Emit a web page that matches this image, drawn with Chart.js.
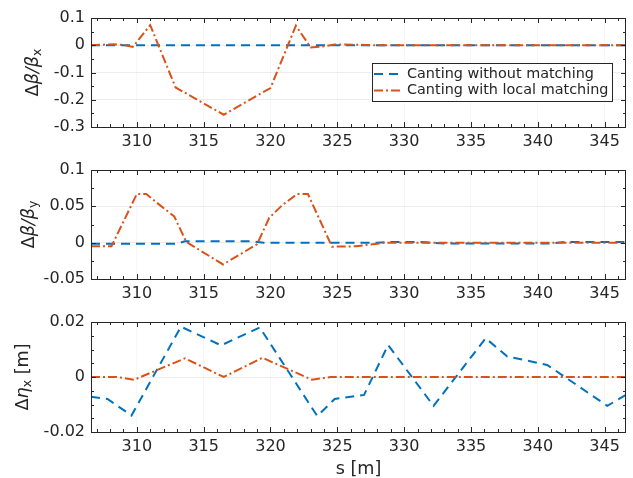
<!DOCTYPE html>
<html lang="en">
<head>
<meta charset="UTF-8">
<title>Canting optics</title>
<script src="https://cdn.jsdelivr.net/npm/chart.js"></script>
<style>
  body { margin: 0; background: #fff; overflow: hidden; }
  canvas { position: absolute; left: 0; }
</style>
</head>
<body>
<canvas id="c1" width="633" height="150" style="top:0"></canvas>
<canvas id="c2" width="633" height="155" style="top:150px"></canvas>
<canvas id="c3" width="633" height="179" style="top:305px"></canvas>

<script>
  // s range of the plots
  const sMin = 306.57, sMax = 346.6;

  // Delta beta / beta x
  const bxNoMatchS = [306.57, 346.6];
  const bxNoMatch  = [0, 0];
  const bxMatchS = [306.57, 307.5, 308.3, 309.0, 309.7, 311.0, 312.9, 316.5, 320.0, 321.9, 323.0, 324.0, 324.8, 326.5, 327.5, 346.6];
  const bxMatch  = [0, 0.002, 0.004, 0.001, -0.006, 0.074, -0.155, -0.255, -0.157, 0.072, -0.008, -0.004, 0.003, 0.002, 0, 0];

  // Delta beta / beta y
  const byNoMatchS = [306.57, 313.0, 313.6, 318.5, 319.5, 328.0, 329.0, 331.0, 332.0, 333.0, 341.0, 342.0, 346.6];
  const byNoMatch  = [-0.0015, -0.0015, 0.002, 0.002, 0, 0, 0.001, 0.001, 0, -0.001, -0.001, 0.001, 0.001];
  const byMatchS = [306.57, 308.1, 310.0, 310.7, 311.7, 312.8, 313.7, 316.45, 319.0, 319.9, 320.9, 322.0, 322.8, 324.6, 326.4, 328.6, 346.6];
  const byMatch  = [-0.005, -0.005, 0.067, 0.067, 0.052, 0.036, 0.001, -0.030, -0.002, 0.034, 0.052, 0.067, 0.067, -0.0055, -0.005, 0, 0];

  // Delta eta x
  const etaNoMatchS = [306.57, 307.8, 309.6, 313.3, 316.3, 319.2, 323.5, 324.8, 327.0, 328.8, 332.2, 336.1, 337.7, 340.7, 345.2, 346.6];
  const etaNoMatch  = [-0.0072, -0.008, -0.014, 0.0183, 0.0115, 0.018, -0.0142, -0.008, -0.0065, 0.0116, -0.0105, 0.0141, 0.0075, 0.0044, -0.0105, -0.0065];
  const etaMatchS = [306.57, 308.5, 309.8, 313.6, 316.5, 319.4, 323.1, 324.5, 346.6];
  const etaMatch  = [0, 0, -0.001, 0.0068, 0, 0.007, -0.001, 0, 0];

  const xTicks = [310, 315, 320, 325, 330, 335, 340, 345];
  const legendLabels = ['Canting without matching', 'Canting with local matching'];

  const BLUE = '#0072BD', ORANGE = '#D95319', AXIS = '#262626';
  const FONT = 'DejaVu Sans';
  const TICK_SIZE = 16, LABEL_SIZE = 17.6, LEGEND_SIZE = 14.4;
  const blueDash = [9, 6], orangeDash = [9, 3, 2, 3];

  const pts = (s, v) => s.map((x, i) => ({ x: x, y: v[i] }));

  // box, inner ticks, y label with subscript, optional legend
  const decor = {
    id: 'decor',
    afterDraw(chart) {
      const o = chart.options.plugins.decor;
      const { ctx, chartArea: a } = chart;
      const xs = chart.scales.x, ys = chart.scales.y;
      ctx.save();
      ctx.strokeStyle = AXIS;
      ctx.lineWidth = 1;
      ctx.strokeRect(a.left + 0.5, a.top + 0.5, a.right - a.left - 1, a.bottom - a.top);
      ctx.beginPath();
      for (let s = Math.ceil(sMin); s <= sMax; s++) {
        const px = Math.round(xs.getPixelForValue(s)) + 0.5;
        const len = s % 5 === 0 ? 5 : 3;
        ctx.moveTo(px, a.bottom); ctx.lineTo(px, a.bottom - len);
        ctx.moveTo(px, a.top); ctx.lineTo(px, a.top + len);
      }
      const n = Math.round((o.yMax - o.yMin) / o.yMinor);
      for (let i = 0; i <= n; i++) {
        const v = o.yMin + i * o.yMinor;
        const py = Math.round(ys.getPixelForValue(v)) + 0.5;
        const len = i % o.minorPer === 0 ? 5 : 3;
        ctx.moveTo(a.left, py); ctx.lineTo(a.left + len, py);
        ctx.moveTo(a.right, py); ctx.lineTo(a.right - len, py);
      }
      ctx.stroke();

      // y label
      ctx.fillStyle = AXIS;
      ctx.textBaseline = 'alphabetic';
      const parts = o.label;
      const measure = p => { ctx.font = (p.it ? 'italic ' : '') + (p.sub ? 12.5 : LABEL_SIZE) + 'px "' + FONT + '"'; return ctx.measureText(p.t).width; };
      const total = parts.reduce((w, p) => w + measure(p), 0);
      ctx.translate(o.labelX, (a.top + a.bottom) / 2);
      ctx.rotate(-Math.PI / 2);
      let x = -total / 2;
      parts.forEach(p => {
        const w = measure(p);
        ctx.fillText(p.t, x, p.sub ? 3 : 0);
        x += w;
      });
      ctx.restore();

      if (o.legend) {
        const L = o.legend;
        ctx.save();
        ctx.fillStyle = '#fff';
        ctx.fillRect(L.x, L.y, L.w, L.h);
        ctx.strokeStyle = AXIS;
        ctx.lineWidth = 1;
        ctx.strokeRect(L.x + 0.5, L.y + 0.5, L.w, L.h);
        ctx.font = LEGEND_SIZE + 'px "' + FONT + '"';
        ctx.textBaseline = 'middle';
        chart.data.datasets.forEach((ds, i) => {
          const cy = L.y + 11 + i * 16.5;
          ctx.strokeStyle = ds.borderColor;
          ctx.lineWidth = 2;
          ctx.setLineDash(ds.borderDash);
          ctx.beginPath();
          ctx.moveTo(L.x + 2, cy); ctx.lineTo(L.x + 31, cy);
          ctx.stroke();
          ctx.setLineDash([]);
          ctx.fillStyle = AXIS;
          ctx.fillText(legendLabels[i], L.x + 35, cy);
        });
        ctx.restore();
      }
    }
  };

  function panel(id, p) {
    const canvas = document.getElementById(id);
    const H = canvas.height;
    return new Chart(canvas, {
      type: 'line',
      data: {
        datasets: [
          { data: pts(p.blueS, p.blue), borderColor: BLUE, borderDash: blueDash, borderWidth: 2, pointRadius: 0, tension: 0, order: 1 },
          { data: pts(p.orangeS, p.orange), borderColor: ORANGE, borderDash: orangeDash, borderWidth: 2, pointRadius: 0, tension: 0, order: 0 }
        ]
      },
      options: {
        responsive: false,
        animation: false,
        layout: { padding: { top: p.top, right: 7, left: 0, bottom: 0 } },
        plugins: {
          legend: { display: false },
          tooltip: { enabled: false },
          decor: { yMin: p.yMin, yMax: p.yMax, yMinor: p.yMinor, minorPer: p.minorPer, label: p.label, labelX: p.labelX, legend: p.legend }
        },
        scales: {
          x: {
            type: 'linear', min: sMin, max: sMax,
            afterFit: s => { s.height = H - p.bottom; },
            afterBuildTicks: s => { s.ticks = xTicks.map(v => ({ value: v })); },
            grid: { color: 'rgba(0,0,0,0.03)', drawTicks: false },
            border: { display: false },
            ticks: { display: true, includeBounds: false, padding: 5, color: AXIS, font: { family: FONT, size: TICK_SIZE }, maxRotation: 0 },
            title: p.xTitle ? { display: true, text: 's [m]', color: AXIS, font: { family: FONT, size: LABEL_SIZE }, padding: { top: 5 } } : { display: false }
          },
          y: {
            min: p.yMin, max: p.yMax,
            afterFit: s => { s.width = 91; },
            grid: { color: 'rgba(0,0,0,0.07)', drawTicks: false },
            border: { display: false },
            ticks: { stepSize: p.yStep, includeBounds: false, padding: 6, color: AXIS, font: { family: FONT, size: TICK_SIZE },
                     callback: v => String(+v.toFixed(3)) }
          }
        }
      },
      plugins: [decor]
    });
  }

  panel('c1', {
    blueS: bxNoMatchS, blue: bxNoMatch, orangeS: bxMatchS, orange: bxMatch,
    top: 18, bottom: 127, yMin: -0.3, yMax: 0.1, yStep: 0.1, yMinor: 0.05, minorPer: 2,
    labelX: 38,
    label: [{ t: 'Δ' }, { t: 'β/β', it: true }, { t: 'x', sub: true }],
    legend: { x: 372, y: 63, w: 240, h: 38 }
  });

  panel('c2', {
    blueS: byNoMatchS, blue: byNoMatch, orangeS: byMatchS, orange: byMatch,
    top: 20, bottom: 129, yMin: -0.05, yMax: 0.1, yStep: 0.05, yMinor: 0.025, minorPer: 2,
    labelX: 34,
    label: [{ t: 'Δ' }, { t: 'β/β', it: true }, { t: 'y', sub: true }]
  });

  panel('c3', {
    blueS: etaNoMatchS, blue: etaNoMatch, orangeS: etaMatchS, orange: etaMatch,
    top: 17, bottom: 127, yMin: -0.02, yMax: 0.02, yStep: 0.02, yMinor: 0.005, minorPer: 4,
    labelX: 28, xTitle: true,
    label: [{ t: 'Δ' }, { t: 'η', it: true }, { t: 'x', sub: true }, { t: ' [m]' }]
  });
</script>
</body>
</html>
